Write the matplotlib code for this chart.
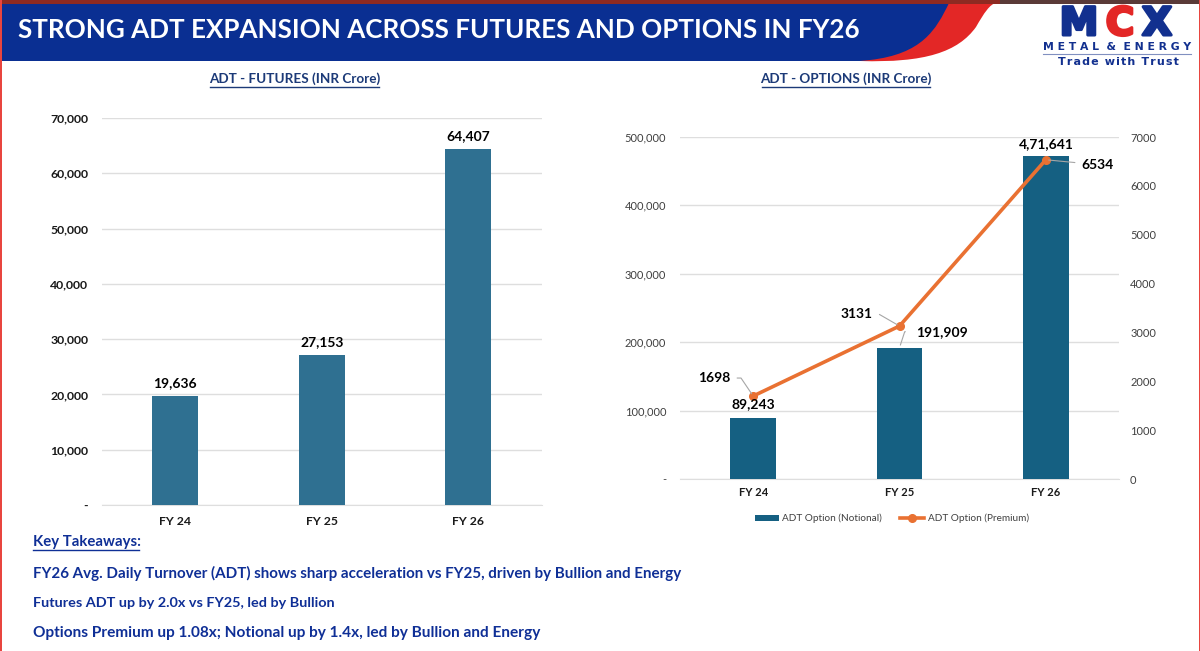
import matplotlib
matplotlib.use("Agg")
import matplotlib.pyplot as plt
import matplotlib.patheffects as pe
from matplotlib.patches import PathPatch, Rectangle
from matplotlib.path import Path
from matplotlib.lines import Line2D
from matplotlib.ticker import FuncFormatter

plt.rcParams['font.family'] = ['Lato', 'DejaVu Sans']

# data
years = ['FY 24', 'FY 25', 'FY 26']
futures_adt = [19636, 27153, 64407]
futures_labels = ['19,636', '27,153', '64,407']
options_notional = [89243, 191909, 471641]
options_labels = ['89,243', '191,909', '4,71,641']
options_premium = [1698, 3131, 6534]

W, H = 1200, 651
NAVY = '#0a2f92'
RED = '#e32726'
LOGO_BLUE = '#12308f'
TEXT_BLUE = '#0f2f96'
GRID = '#dedede'


def px_axes(left, top, right, bottom, **kw):
    return fig.add_axes([left / W, 1 - bottom / H, (right - left) / W, (bottom - top) / H], **kw)


def money(v, pos=None):
    return '-' if v == 0 else f'{int(v):,}'


fig = plt.figure(figsize=(12, 6.51), dpi=100, facecolor='white')

# ----------------------------
# Slide furniture, in pixel coordinates
# ----------------------------
bg = fig.add_axes([0, 0, 1, 1], zorder=0)
bg.set_xlim(0, W)
bg.set_ylim(H, 0)
bg.axis('off')

red_path = Path(
    [(860, 61), (925, 63), (958, 52), (976, 27), (984, 13), (990, 4), (996, 3), (860, 3), (860, 61)],
    [Path.MOVETO, Path.CURVE4, Path.CURVE4, Path.CURVE4, Path.CURVE4, Path.CURVE4, Path.CURVE4, Path.LINETO, Path.CLOSEPOLY])
bg.add_patch(PathPatch(red_path, fc=RED, ec='none'))
blue_path = Path(
    [(0, 3), (949, 3), (936, 30), (922, 54), (870, 60), (860, 61), (0, 61), (0, 3)],
    [Path.MOVETO, Path.LINETO, Path.CURVE4, Path.CURVE4, Path.CURVE4, Path.LINETO, Path.LINETO, Path.CLOSEPOLY])
bg.add_patch(PathPatch(blue_path, fc=NAVY, ec='none'))
bg.add_patch(Rectangle((0, 0), 1000, 3.5, fc='#8e2a22', ec='none'))
bg.add_patch(Rectangle((1000, 0), 200, 3.5, fc='#5a3a38', ec='none'))
bg.add_patch(Rectangle((0, 0), 1.5, H, fc='#e8453f', ec='none'))
bg.add_patch(Rectangle((W - 1.5, 0), 1.5, H, fc='#e8453f', ec='none'))

bg.text(18, 30.5, 'STRONG ADT EXPANSION ACROSS FUTURES AND OPTIONS IN FY26',
        color='white', fontsize=18.7, fontweight='bold', va='center', ha='left')

# logo
for ch, cx, col in [('M', 1079, LOGO_BLUE), ('C', 1120, RED), ('X', 1157, LOGO_BLUE)]:
    bg.text(cx, 35, ch, color=col, fontsize=28, fontweight='bold', family='DejaVu Sans', ha='center',
            va='baseline', path_effects=[pe.withStroke(linewidth=2.2, foreground=col)])
bg.text(1117.5, 47.5, 'M E T A L  &  E N E R G Y', color=LOGO_BLUE, fontsize=7.8, fontweight='bold',
        family='DejaVu Sans', ha='center', va='center')
bg.add_line(Line2D([1043, 1191], [54, 54], color='#8090c0', lw=0.8))
bg.text(1118, 62, '\u200a'.join('Trade with Trust'), color=LOGO_BLUE, fontsize=8, fontweight='bold',
        family='DejaVu Sans', ha='center', va='center')

# chart titles, underline drawn by hand
for txt, cx, x0, x1 in [('ADT - FUTURES (INR Crore)', 294.5, 210, 379),
                        ('ADT - OPTIONS (INR Crore)', 846, 762, 930)]:
    bg.text(cx, 79, txt, color='#1c3a78', fontsize=9.7, fontweight='bold', ha='center', va='center')
    bg.add_line(Line2D([x0, x1], [86.5, 86.5], color='#1c3a78', lw=1))

# takeaways
bg.text(33, 542, 'Key Takeaways:', color=TEXT_BLUE, fontsize=10.7, fontweight='bold', va='center')
bg.add_line(Line2D([33, 139], [550, 550], color=TEXT_BLUE, lw=1))
bg.text(33, 573, 'FY26 Avg. Daily Turnover (ADT) shows sharp acceleration vs FY25, driven by Bullion and Energy',
        color=TEXT_BLUE, fontsize=10.87, fontweight='bold', va='center')
bg.text(33, 603, 'Futures ADT up by 2.0x vs FY25, led by Bullion',
        color=TEXT_BLUE, fontsize=10.4, fontweight='bold', va='center')
bg.text(33, 633, 'Options Premium up 1.08x; Notional up by 1.4x, led by Bullion and Energy',
        color=TEXT_BLUE, fontsize=11.05, fontweight='bold', va='center')

# ----------------------------
# Left chart: futures
# ----------------------------
ax1 = px_axes(102, 118, 541.5, 505, zorder=2)
ax1.patch.set_alpha(0)
ax1.bar(years, futures_adt, width=0.314, color='#2f7091', zorder=3)
ax1.set_xlim(-0.5, 2.5)
ax1.set_ylim(0, 70000)
ax1.set_yticks(range(0, 70001, 10000))
ax1.yaxis.set_major_formatter(FuncFormatter(money))
ax1.grid(axis='y', color=GRID, lw=1, zorder=0)
ax1.set_axisbelow(True)
for s in ax1.spines.values():
    s.set_visible(False)
ax1.spines['bottom'].set_visible(True)
ax1.spines['bottom'].set_color(GRID)
ax1.tick_params(length=0, labelsize=8.8, pad=10, labelcolor='#1a1a1a')
ax1.tick_params(axis='x', pad=8)
for lab in ax1.get_xticklabels() + ax1.get_yticklabels():
    lab.set_fontweight('bold')
for i, v in enumerate(futures_adt):
    ax1.annotate(futures_labels[i], (i, v), xytext=(0, 5), textcoords='offset points', ha='center',
                 va='bottom', fontsize=10, fontweight='bold', color='black')

# ----------------------------
# Right chart: options, premium on a second axis
# ----------------------------
ax2 = px_axes(680, 137, 1119, 479, zorder=2)
ax2.patch.set_alpha(0)
bars = ax2.bar(years, options_notional, width=0.314, color='#156082', zorder=3)
ax2.set_xlim(-0.5, 2.5)
ax2.set_ylim(0, 500000)
ax2.set_yticks(range(0, 500001, 100000))
ax2.yaxis.set_major_formatter(FuncFormatter(money))
ax2.grid(axis='y', color=GRID, lw=1, zorder=0)
ax2.set_axisbelow(True)
for s in ax2.spines.values():
    s.set_visible(False)
ax2.spines['bottom'].set_visible(True)
ax2.spines['bottom'].set_color(GRID)
ax2.tick_params(length=0, labelsize=8, pad=10, labelcolor='#404040')
ax2.tick_params(axis='x', pad=6)
for lab in ax2.get_xticklabels():
    lab.set_fontweight('bold')
    lab.set_color('#1a1a1a')

ax3 = ax2.twinx()
ax3.set_zorder(3)
line, = ax3.plot(years, options_premium, color='#e97132', lw=2.6, marker='o', ms=5.5)
ax3.set_ylim(0, 7000)
ax3.set_yticks(range(0, 7001, 1000))
for s in ax3.spines.values():
    s.set_visible(False)
ax3.tick_params(length=0, labelsize=8, pad=8, labelcolor='#404040')

label_kw = dict(textcoords='offset pixels', fontsize=10, fontweight='bold', color='black', va='center')


def leader(angle=None, shrink=3):
    style = dict(arrowstyle='-', color='#a6a6a6', lw=0.8, shrinkA=shrink, shrinkB=2)
    if angle is not None:
        style['connectionstyle'] = f'angle,angleA=0,angleB={angle},rad=0'
    return style


# premium labels
ax3.annotate(str(options_premium[0]), (0, options_premium[0]), xytext=(-23, 18), ha='right',
             arrowprops=leader(124), **label_kw)
ax3.annotate(str(options_premium[1]), (1, options_premium[1]), xytext=(-27, 12), ha='right',
             arrowprops=leader(150), **label_kw)
ax3.annotate(str(options_premium[2]), (2, options_premium[2]), xytext=(36, -5), ha='left',
             arrowprops=leader(), **label_kw)
# notional labels
ax3.annotate(options_labels[0], (0, options_notional[0] * 7000 / 500000), xytext=(0, 14), ha='center', **label_kw)
ax3.annotate(options_labels[1], (1, options_notional[1] * 7000 / 500000), xytext=(17, 16), ha='left',
             arrowprops=leader(72, shrink=6), **label_kw)
ax3.annotate(options_labels[2], (2, options_notional[2] * 7000 / 500000), xytext=(0, 12), ha='center', **label_kw)

fig.legend(handles=[bars, line], labels=['ADT Option (Notional)', 'ADT Option (Premium)'], ncol=2, frameon=False,
           loc='center', bbox_to_anchor=(892 / W, 1 - 518.5 / H), fontsize=7.2, labelcolor='#404040',
           columnspacing=1.8, handlelength=2.4, handletextpad=0.4, handleheight=0.6)

fig.savefig('out.png', dpi=100)
